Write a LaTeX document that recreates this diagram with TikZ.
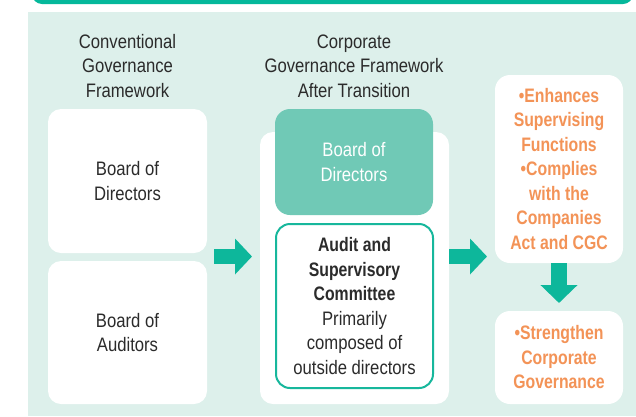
\documentclass[tikz,border=0pt]{standalone}
\usepackage{fontspec}
\setmainfont{Liberation Sans}[FakeStretch=0.855, BoldFeatures={FakeStretch=0.81}]
\usetikzlibrary{arrows.meta}
\definecolor{mint}{HTML}{DDF0EB}
\definecolor{barteal}{HTML}{05B89B}
\definecolor{arrteal}{HTML}{0DB79B}
\definecolor{lteal}{HTML}{70C9B6}
\definecolor{audteal}{HTML}{17B79C}
\definecolor{orng}{HTML}{F39357}
\definecolor{txtdark}{HTML}{2B2B2B}
\tikzset{
  lbl/.style={font=\fontsize{19.5}{24.5}\selectfont, text=txtdark, align=center, inner sep=0pt},
  wbox/.style={lbl, fill=white, rounded corners=13pt},
  obox/.style={wbox, text=orng, font=\fontsize{19.5}{24.5}\selectfont\bfseries},
  bigarrow/.style={draw=arrteal, line width=15pt, -{Triangle[width=35pt,length=17pt]}}
}
\begin{document}
\begin{tikzpicture}[x=1pt,y=-1pt]
\useasboundingbox (0,0) rectangle (636,416);
\fill[mint] (28,12) rectangle (636,416);
\fill[barteal, rounded corners=10pt] (32,-30) rectangle (633,4);
% headers
\node[lbl] (h1) at (127.5,66) {Conventional\\Governance\\Framework};
\node[lbl] (h2) at (354,66) {Corporate\\Governance Framework\\After Transition};
% left column
\node[wbox, minimum width=159pt, minimum height=144pt] (bod1) at (127.5,181) {Board of\\Directors};
\node[wbox, minimum width=159pt, minimum height=143pt] (boa) at (127.5,332.5) {Board of\\Auditors};
% middle column
\node[wbox, minimum width=189pt, minimum height=272pt] (cont) at (354.5,268) {};
\node[wbox, fill=lteal, text=white, minimum width=158pt, minimum height=106pt, rounded corners=15pt] (bod2) at (354,162) {Board of\\Directors};
\node[wbox, draw=audteal, line width=2pt, minimum width=157pt, minimum height=164pt, rounded corners=14pt] (asc) at (354.5,306)
  {\textbf{Audit and}\\\textbf{Supervisory}\\\textbf{Committee}\\Primarily\\composed of\\outside directors};
% right column
\node[obox, minimum width=128pt, minimum height=188pt, rounded corners=15pt] (rt) at (559,169)
  {•Enhances\\Supervising\\Functions\\•Complies\\with the\\Companies\\Act and CGC};
\node[obox, minimum width=128pt, minimum height=93pt, rounded corners=15pt] (rb) at (559,357.5)
  {•Strengthen\\Corporate\\Governance};
% arrows
\coordinate (a1s) at (214,256.5);
\coordinate (a1e) at (252,256.5);
\coordinate (a2s) at (cont.east |- a1s);
\coordinate (a2e) at (487,256.5);
\coordinate (a3e) at (559,303);
\draw[bigarrow] (a1s) -- (a1e);
\draw[bigarrow] (a2s) -- (a2e);
\draw[bigarrow, line width=16pt, -{Triangle[width=36pt,length=18pt]}] (rt.south) -- (a3e);
\end{tikzpicture}
\end{document}
